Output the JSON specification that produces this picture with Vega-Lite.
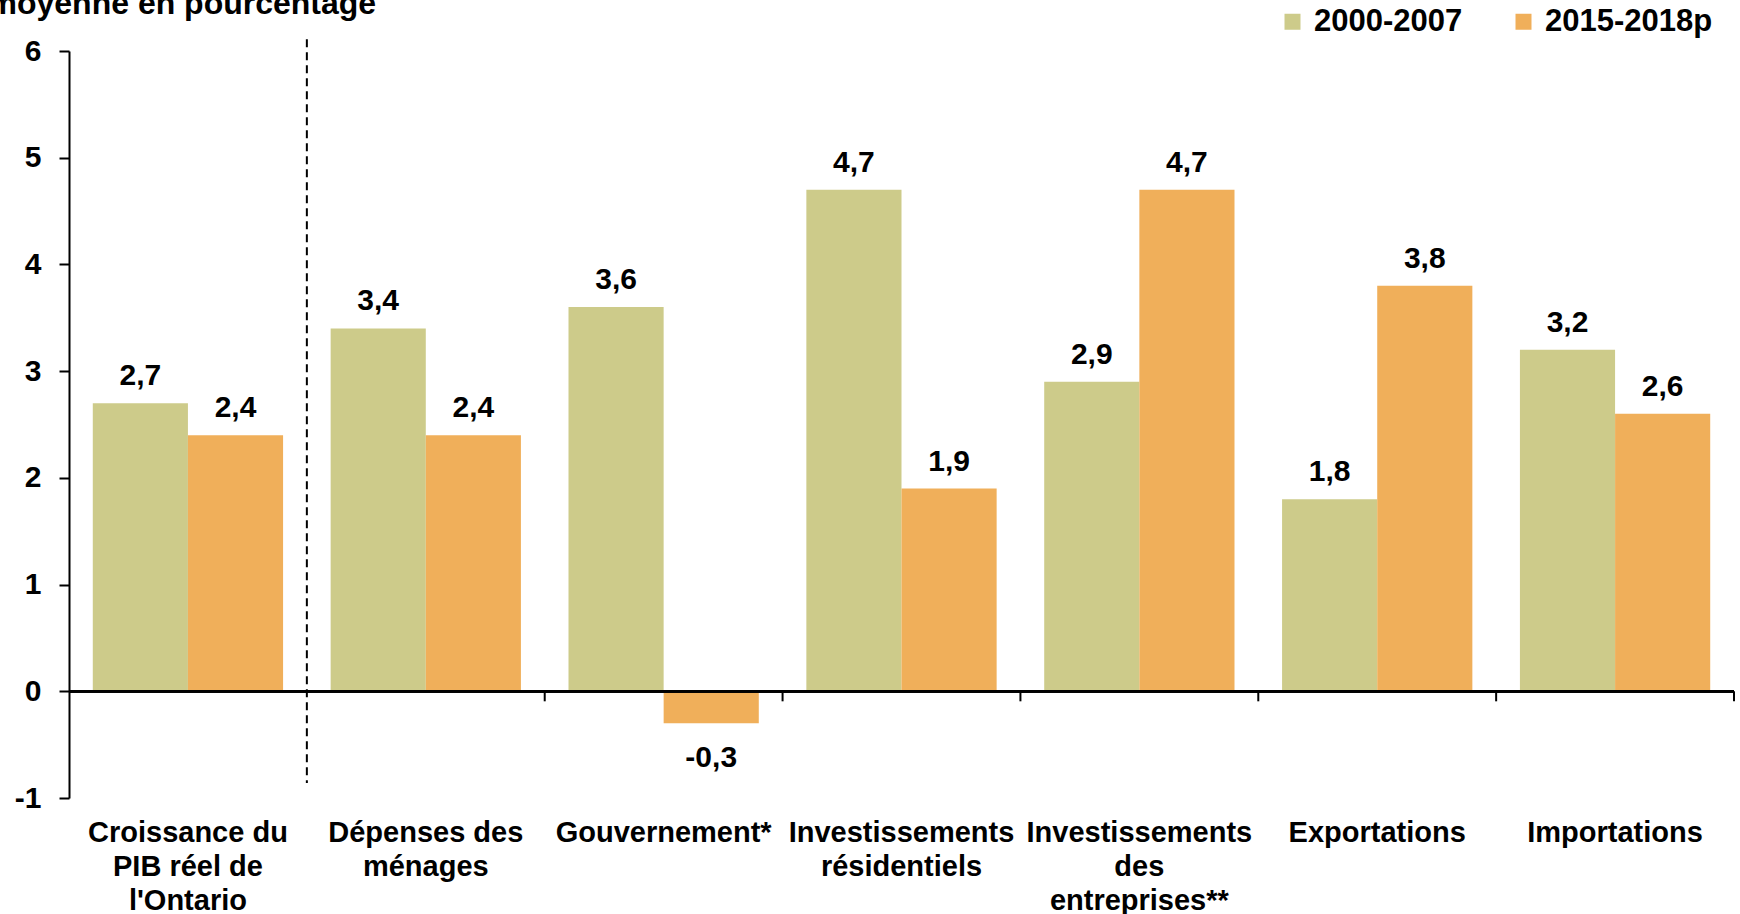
{
  "$schema": "https://vega.github.io/schema/vega-lite/v6.json",
  "width": 1665,
  "height": 747,
  "autosize": {"type": "none"},
  "padding": {"left": 69, "top": 51, "right": 6, "bottom": 116},
  "config": {
    "locale": {"number": {"decimal": ",", "thousands": "\u00a0", "grouping": [3], "currency": ["", " $"], "minus": "-"}},
    "view": {"stroke": null},
    "font": "Liberation Sans"
  },
  "data": {
    "values": [
      {"categorie": "Croissance du PIB réel de l'Ontario", "periode": "2000-2007", "valeur": 2.7},
      {"categorie": "Croissance du PIB réel de l'Ontario", "periode": "2015-2018p", "valeur": 2.4},
      {"categorie": "Dépenses des ménages", "periode": "2000-2007", "valeur": 3.4},
      {"categorie": "Dépenses des ménages", "periode": "2015-2018p", "valeur": 2.4},
      {"categorie": "Gouvernement*", "periode": "2000-2007", "valeur": 3.6},
      {"categorie": "Gouvernement*", "periode": "2015-2018p", "valeur": -0.3},
      {"categorie": "Investissements résidentiels", "periode": "2000-2007", "valeur": 4.7},
      {"categorie": "Investissements résidentiels", "periode": "2015-2018p", "valeur": 1.9},
      {"categorie": "Investissements des entreprises**", "periode": "2000-2007", "valeur": 2.9},
      {"categorie": "Investissements des entreprises**", "periode": "2015-2018p", "valeur": 4.7},
      {"categorie": "Exportations", "periode": "2000-2007", "valeur": 1.8},
      {"categorie": "Exportations", "periode": "2015-2018p", "valeur": 3.8},
      {"categorie": "Importations", "periode": "2000-2007", "valeur": 3.2},
      {"categorie": "Importations", "periode": "2015-2018p", "valeur": 2.6}
    ]
  },
  "layer": [
    {
      "mark": {"type": "bar"},
      "encoding": {
        "x": {
          "field": "categorie", "type": "nominal", "sort": null,
          "scale": {"type": "band", "paddingInner": 0, "paddingOuter": 0},
          "axis": {
            "title": null, "domain": false, "ticks": false, "labelAngle": 0,
            "labelFontSize": 29, "labelFontWeight": "bold", "labelColor": "black",
            "labelPadding": 20, "labelLineHeight": 34, "labelBaseline": "top",
            "labelLimit": 0, "labelOverlap": false,
            "labelExpr": "datum.value == \"Croissance du PIB réel de l'Ontario\" ? ['Croissance du', 'PIB réel de', \"l'Ontario\"] : datum.value == 'Dépenses des ménages' ? ['Dépenses des', 'ménages'] : datum.value == 'Investissements résidentiels' ? ['Investissements', 'résidentiels'] : datum.value == 'Investissements des entreprises**' ? ['Investissements', 'des', 'entreprises**'] : datum.value"
          }
        },
        "xOffset": {
          "field": "periode", "type": "nominal", "sort": ["2000-2007", "2015-2018p"],
          "scale": {"paddingInner": 0, "paddingOuter": 0.25}
        },
        "y": {
          "field": "valeur", "type": "quantitative",
          "scale": {"domain": [-1, 6], "nice": false, "zero": false},
          "axis": {
            "values": [-1, 0, 1, 2, 3, 4, 5, 6], "format": "d", "grid": false,
            "domainColor": "black", "domainWidth": 2,
            "tickColor": "black", "tickWidth": 2, "tickSize": 10,
            "labelFontSize": 30, "labelFontWeight": "bold", "labelColor": "black", "labelPadding": 18,
            "title": "moyenne en pourcentage", "titleAngle": 0, "titleX": -81, "titleY": -38,
            "titleAlign": "left", "titleBaseline": "alphabetic",
            "titleFontSize": 32, "titleFontWeight": "bold", "titleColor": "black"
          }
        },
        "color": {
          "field": "periode", "type": "nominal",
          "scale": {"domain": ["2000-2007", "2015-2018p"], "range": ["#CDCB8A", "#F0AF5A"]},
          "legend": {
            "orient": "none", "legendX": 1208, "legendY": -45, "direction": "horizontal",
            "title": null, "symbolType": "square", "symbolSize": 256, "symbolStrokeWidth": 0,
            "symbolOpacity": 1, "labelFontSize": 31, "labelFontWeight": "bold", "labelColor": "black",
            "labelLimit": 0, "columnPadding": 45, "labelOffset": 6
          }
        }
      }
    },
    {
      "transform": [{"filter": "datum.valeur >= 0"}],
      "mark": {"type": "text", "dy": -18, "baseline": "alphabetic", "fontSize": 30, "fontWeight": "bold", "color": "black"},
      "encoding": {
        "x": {"field": "categorie", "type": "nominal", "sort": null},
        "xOffset": {"field": "periode", "type": "nominal", "sort": ["2000-2007", "2015-2018p"]},
        "y": {"field": "valeur", "type": "quantitative"},
        "text": {"field": "valeur", "type": "quantitative", "format": ".1f"}
      }
    },
    {
      "transform": [{"filter": "datum.valeur < 0"}],
      "mark": {"type": "text", "dy": 44, "baseline": "alphabetic", "fontSize": 30, "fontWeight": "bold", "color": "black"},
      "encoding": {
        "x": {"field": "categorie", "type": "nominal", "sort": null},
        "xOffset": {"field": "periode", "type": "nominal", "sort": ["2000-2007", "2015-2018p"]},
        "y": {"field": "valeur", "type": "quantitative"},
        "text": {"field": "valeur", "type": "quantitative", "format": ".1f"}
      }
    },
    {
      "mark": {"type": "rule", "color": "black", "strokeWidth": 2},
      "encoding": {"y": {"datum": 0}}
    },
    {
      "transform": [{"filter": "datum.categorie != \"Croissance du PIB réel de l'Ontario\" && datum.periode == '2000-2007'"}],
      "mark": {"type": "rule", "color": "black", "strokeWidth": 2},
      "encoding": {
        "x": {"field": "categorie", "type": "nominal", "sort": null, "bandPosition": 1},
        "y": {"datum": 0},
        "y2": {"datum": -0.094}
      }
    },
    {
      "transform": [{"filter": "datum.categorie == \"Croissance du PIB réel de l'Ontario\" && datum.periode == '2000-2007'"}],
      "mark": {"type": "rule", "color": "black", "strokeWidth": 2, "strokeDash": [8, 5]},
      "encoding": {
        "x": {"field": "categorie", "type": "nominal", "sort": null, "bandPosition": 1},
        "y": {"datum": 6.11},
        "y2": {"datum": -0.86}
      }
    }
  ]
}
